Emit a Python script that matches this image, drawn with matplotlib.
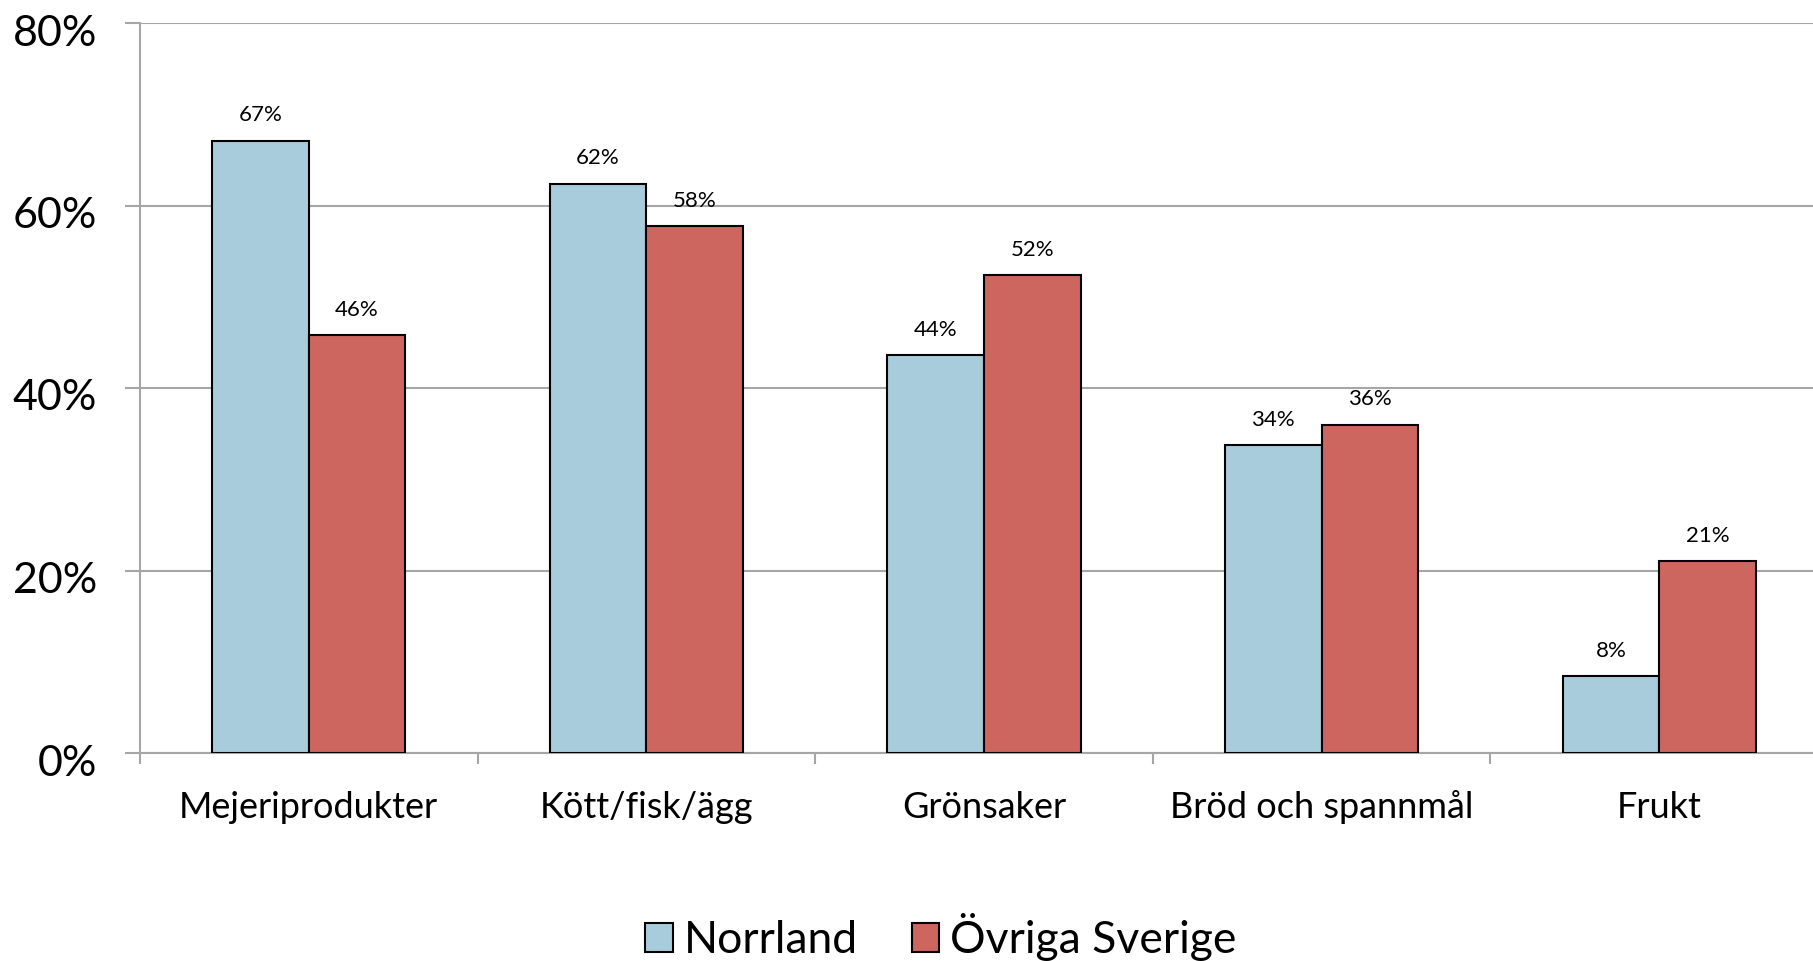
import numpy as np
import matplotlib.pyplot as plt
import matplotlib.transforms as mtransforms
from matplotlib.ticker import FuncFormatter

categories = ['Mejeriprodukter', 'Kött/fisk/ägg', 'Grönsaker', 'Bröd och spannmål', 'Frukt']
norrland = [67.1, 62.4, 43.6, 33.7, 8.4]
ovriga = [45.8, 57.7, 52.4, 36.0, 21.0]
series_names = ['Norrland', 'Övriga Sverige']

plt.rcParams['font.family'] = ['Lato', 'DejaVu Sans']

fig = plt.figure(figsize=(18.13, 9.61), dpi=100)
ax = fig.add_axes([140 / 1813, 1 - 753 / 961, (1828 - 140) / 1813, (753 - 23) / 961])

x = np.arange(len(categories))
w = 0.286
blue = '#A9CCDC'
red = '#CD665F'
b1 = ax.bar(x - w / 2, norrland, w, color=blue, edgecolor='black', linewidth=1.5, label=series_names[0], zorder=3)
b2 = ax.bar(x + w / 2, ovriga, w, color=red, edgecolor='black', linewidth=1.5, label=series_names[1], zorder=3)

for bars, vals in [(b1, norrland), (b2, ovriga)]:
    for b, v in zip(bars, vals):
        ax.annotate('%d%%' % round(v), (b.get_x() + b.get_width() / 2, v),
                    xytext=(0, 11), textcoords='offset points',
                    ha='center', va='bottom', fontsize=16)

ax.set_xlim(-0.5, len(categories) - 0.5)
ax.set_ylim(0, 80)
ax.set_yticks([0, 20, 40, 60, 80])
ax.yaxis.set_major_formatter(FuncFormatter(lambda v, p: '%d%%' % v))
ax.grid(axis='y', color='#A6A6A6', linewidth=1.5, zorder=0)

# category boundaries as ticks
ax.set_xticks(np.arange(len(categories) + 1) - 0.5)
ax.set_xticklabels([])
ax.set_xticks(x, minor=True)
ax.set_xticklabels(categories, minor=True, fontsize=26)
ax.tick_params(axis='x', which='minor', length=0, pad=27)
ax.tick_params(axis='x', which='major', length=8, width=1.5, color='#A6A6A6', direction='out')
ax.tick_params(axis='y', length=11, width=1.5, color='#A6A6A6', labelsize=31, pad=20)

shift = mtransforms.ScaledTranslation(0, -7 / 100, fig.dpi_scale_trans)
for lab in ax.get_yticklabels():
    lab.set_transform(lab.get_transform() + shift)

for s in ['top', 'right']:
    ax.spines[s].set_visible(False)
for s in ['left', 'bottom']:
    ax.spines[s].set_color('#A6A6A6')
    ax.spines[s].set_linewidth(1.5)

fig.legend(handles=[b1, b2], loc='center', bbox_to_anchor=(941 / 1813, 1 - 937 / 961),
           ncol=2, frameon=False, fontsize=32, handlelength=0.62, handleheight=0.62,
           handletextpad=0.25, columnspacing=1.2)

fig.savefig('out.png', dpi=100)
